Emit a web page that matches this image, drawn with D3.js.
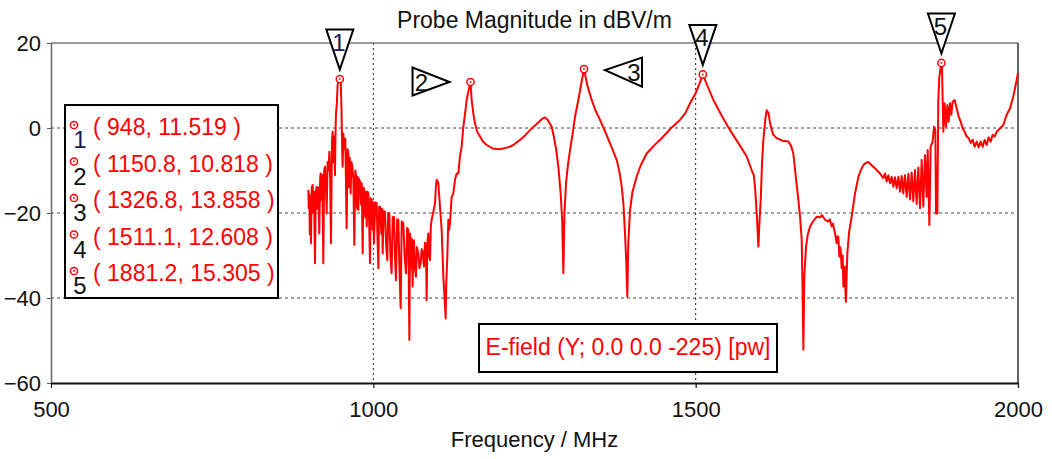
<!DOCTYPE html>
<html><head><meta charset="utf-8">
<script src="https://cdn.jsdelivr.net/npm/d3@7"></script>
<style>
html,body{margin:0;padding:0;background:#fff;}
svg{display:block;font-family:"Liberation Sans",Arial,sans-serif;}
</style></head><body>
<svg id="chart" width="1052" height="459"></svg>
<script>
// ---- data (frequency in MHz, probe magnitude in dBV/m) ----
const traceFreqDb = [
[899.2,-14.6],[899.8,-18.9],[900.6,-15.5],[901.5,-25],[902.2,-16],[903.3,-27.1],[904.5,-14],[905.9,-13.4],
[907,-20],[908,-15],[909.5,-31.8],[910.8,-15],[912.1,-13.8],[913.5,-19],[914.8,-14],[916.2,-24.8],
[917.5,-12],[918.3,-10.7],[919.5,-17],[920.8,-11],[922.4,-31.8],[923.8,-10],[925,-9.1],[926.5,-14],
[927.6,-20.1],[929,-8],[930.5,-10],[931.8,-5.6],[933,-12],[934.3,-27.1],[935.8,-3],[936.9,-0.9],
[938,-8],[939,-2],[940.5,-11.1],[941.5,0],[942.1,3.5],[943.5,6],[944.5,10],[946,11.3],[948,11.519],
[949.5,11],[950.5,5],[950.9,1.9],[951.8,-6],[952.4,-9.1],[953.5,-1.3],[955,-5],[956.5,-2.5],[958.6,-23.6],
[960,-5],[961.2,-6],[962.5,-14],[963.5,-7],[964.8,-15.4],[966,-8],[967.4,-9.1],[969,-12],[970.5,-27.5],
[972,-10],[973.1,-11.1],[974.8,-19],[976,-11.5],[976.7,-19.3],[978,-12],[979.3,-12.6],[981,-18],[982,-13],
[983.5,-29.5],[984.5,-14],[985.5,-14.2],[987.5,-21],[988.5,-15],[989.7,-23.2],[991,-15],[992.3,-15.4],
[993.5,-22],[994.8,-31.8],[996,-16.5],[997.4,-16.9],[999,-24],[1000,-17.5],[1001,-27.1],[1003,-17.5],
[1005.2,-17.7],[1006.5,-26],[1007.8,-33],[1009,-18.5],[1010.4,-18.5],[1012.5,-25],[1013.5,-19],[1014.5,-29.5],
[1016,-19.5],[1018.1,-19.7],[1020,-28],[1021.7,-31.1],[1023,-20],[1024.8,-20.1],[1026.5,-30],[1028.4,-34.2],
[1030,-21],[1032.1,-20.9],[1033.5,-30],[1035.2,-35.8],[1037,-21.5],[1038.8,-21.6],[1040.5,-33],[1042.4,-42.4],
[1044,-22],[1046.5,-22.4],[1048.5,-30],[1050.7,-34.2],[1052.5,-23.5],[1054.3,-24],[1055.9,-49.9],
[1056.9,-24.8],[1058.5,-33],[1059.5,-26],[1061,-37.3],[1062,-27],[1063.1,-26.4],[1064.5,-33],[1066.2,-35],
[1067.5,-28],[1069.8,-29.5],[1071.5,-33],[1073.4,-31.8],[1075,-28.5],[1076.5,-29.1],[1078.6,-32.6],[1080,-27],
[1081.7,-27.9],[1082.7,-40.5],[1083.8,-27],[1085.3,-24.8],[1086.5,-30],[1087.9,-31.1],[1089.2,-23],[1090.5,-21.6],
[1093.1,-19.7],[1095.7,-17.7],[1097,-14],[1098.2,-12.2],[1099.5,-12.5],[1100.8,-13],[1102,-15.5],[1103.4,-18.5],
[1106,-24],[1108.6,-35],[1110.5,-40],[1112.2,-44.8],[1113.2,-36],[1114.8,-30.3],[1116.3,-21.6],[1117.5,-24],
[1118.9,-22.4],[1121.5,-16.2],[1124.1,-15.4],[1126.7,-12.2],[1129.3,-10.7],[1131.9,-10.7],[1134.4,-6.7],[1137,-4.4],
[1139.6,0.3],[1142,3],[1144.8,6.6],[1148,9],[1150.8,10.818],[1152.5,6.6],[1155,3.5],[1157.7,1.1],[1161,-0.8],
[1165.5,-2],[1170,-3.2],[1175.8,-4],[1185,-4.8],[1196.5,-5],[1210,-4.5],[1217.2,-4],[1227.5,-2.8],[1235,-1.8],
[1243,-0.5],[1255,1.2],[1262,2.2],[1266.3,2.5],[1270,2],[1276.7,0.3],[1280,-2],[1284,-5.5],[1287,-9.1],
[1290.6,-15.4],[1293,-22],[1294.8,-34.2],[1296.5,-20],[1298.9,-13],[1302,-8.5],[1305.1,-5.2],[1309,-1.5],
[1312.9,2.7],[1318,6.6],[1322,10],[1326.8,13.858],[1332,10],[1338.7,6.6],[1345,4],[1351.6,1.9],[1360,-1],
[1367.2,-3.6],[1377.5,-7.5],[1382,-10.5],[1385.3,-13.8],[1388,-18],[1390.4,-24.8],[1392.5,-32],[1394,-39.7],
[1395.5,-27],[1398.2,-19.3],[1402,-15],[1408.5,-11.4],[1415,-8.7],[1424,-6],[1435,-4.2],[1449.9,-2],[1462,0],
[1475.7,1.9],[1484,3.5],[1491.2,5.8],[1500,8.2],[1506,10.5],[1511.1,12.608],[1518,10],[1527.5,6.6],[1540,3],
[1553.3,-0.5],[1566,-3.5],[1579.2,-6.7],[1586.9,-9.9],[1590,-11],[1592.1,-13.8],[1594.7,-20.1],[1597.3,-27.9],
[1599,-22],[1600.9,-16.9],[1603,-8],[1605,-2.8],[1608,2],[1610.2,4.2],[1613,3.5],[1615.4,1.1],[1620,-1.5],
[1625.7,-2.4],[1635,-3],[1643.8,-3.2],[1648,-4.2],[1651.5,-6],[1655,-11],[1659.3,-16.9],[1662,-21],[1664.5,-26.4],
[1665.8,-38],[1667.1,-52.2],[1668.5,-35],[1671.2,-27.9],[1674,-25],[1677.4,-23.2],[1682,-22],[1687.7,-20.9],
[1693,-21],[1696,-20.5],[1700.7,-21.6],[1705.8,-22],[1708,-21.5],[1711,-23.2],[1713,-22.5],[1716.2,-24.8],
[1718.7,-27.1],[1720,-25.5],[1721.3,-25.6],[1722.9,-30.3],[1724,-28],[1725,-28.7],[1726.5,-33],[1728,-30],
[1729.1,-37.3],[1730,-34],[1731.2,-32.6],[1732.2,-38],[1733.2,-40.9],[1734.2,-35],[1735.3,-29.5],[1738,-24.5],
[1742,-20.9],[1747.2,-15.4],[1752.4,-11.5],[1756,-10],[1760.1,-8.7],[1764,-8.2],[1767.9,-8],[1771,-8.5],
[1775.6,-9.1],[1780.8,-9.9],[1785.9,-10.7],[1791.1,-11.8],[1793.7,-10.7],[1796.3,-12.6],[1798.9,-11.1],
[1801.5,-13],[1804,-11.5],[1806.6,-13.8],[1809.2,-11.6],[1811.8,-14.2],[1814.4,-11.5],[1817,-15],[1819.5,-11.3],
[1822.1,-15.4],[1824.7,-11.1],[1827.3,-16.2],[1829.9,-10.8],[1832.5,-16.8],[1835,-10.5],[1837.6,-17.3],
[1840.2,-9.9],[1842.8,-17.9],[1845.4,-9.3],[1848,-18.9],[1850.6,-7.5],[1853.1,-18.5],[1855.7,-6.4],[1858.3,-16.2],
[1859.9,-5.2],[1862.5,-22.8],[1864.5,-4.4],[1867.6,-3.2],[1869.7,0.3],[1871.8,-0.5],[1872.8,-20.1],[1874.9,-20.1],
[1876.4,6.6],[1878,12.1],[1881.2,15.305],[1882.1,14],[1884.2,-0.9],[1886.2,5.8],[1888.3,0.3],[1890.4,5.4],
[1892.4,1.5],[1894.5,5.8],[1896.6,3.1],[1898.6,6.2],[1901.7,6.6],[1904.9,4.6],[1908,2.7],[1911.1,1.5],
[1914.2,-0.1],[1917.3,-0.9],[1920.4,-2],[1923.5,-2.4],[1926.6,-3.5],[1929.7,-2.8],[1932.8,-4.4],[1935.9,-3.2],
[1939,-4.6],[1942.1,-3.2],[1945.2,-4.4],[1948.3,-2.8],[1951.4,-4],[1954.5,-2.2],[1957.6,-3.2],[1960.7,-1.6],
[1963.8,-2],[1966.9,-0.9],[1972.1,-0.1],[1977.2,0.7],[1982.4,3.1],[1987.6,4.6],[1992.7,7.4],[1996.9,10.5],[2000,12.9]
];
const markerIds = ["1","2","3","4","5"];
const markerFreq = [948, 1150.8, 1326.8, 1511.1, 1881.2];
const markerVal = [11.519, 10.818, 13.858, 12.608, 15.305];
const markerDir = ["down","right","left","down","down"];
const xTicks = [500, 1000, 1500, 2000];
const yTicks = [20, 0, -20, -40, -60];
const gridX = [1000, 1500];
const gridY = [0, -20, -40];
const titleText = "Probe Magnitude in dBV/m";
const xLabelText = "Frequency / MHz";
const seriesLabel = "E-field (Y; 0.0 0.0 -225) [pw]";

// ---- layout ----
const L = 51, R = 1018, T = 43, B = 383;
const svg = d3.select("#chart");
const x = d3.scaleLinear().domain([500, 2000]).range([L, R]);
const y = d3.scaleLinear().domain([-60, 20]).range([B, T]);

// gridlines
svg.append("g").selectAll("line").data(gridY).join("line")
  .attr("x1", L).attr("x2", R).attr("y1", d => y(d)).attr("y2", d => y(d))
  .attr("stroke", "#444").attr("stroke-width", 1).attr("stroke-dasharray", "3,3");
svg.append("g").selectAll("line").data(gridX).join("line")
  .attr("y1", T).attr("y2", B).attr("x1", d => x(d)).attr("x2", d => x(d))
  .attr("stroke", "#222").attr("stroke-width", 1).attr("stroke-dasharray", "2,3");

// frame top/right
svg.append("line").attr("x1", L).attr("x2", R).attr("y1", T).attr("y2", T)
  .attr("stroke", "#777").attr("stroke-width", 1.5);
svg.append("line").attr("x1", R).attr("x2", R).attr("y1", T).attr("y2", B)
  .attr("stroke", "#333").attr("stroke-width", 1.5);

// axes
const yAxis = svg.append("g").attr("transform", `translate(${L},0)`)
  .call(d3.axisLeft(y).tickValues(yTicks).tickSize(4).tickPadding(6).tickSizeOuter(0).tickFormat(d3.format("d")));
yAxis.select(".domain").attr("stroke", "#666").attr("stroke-width", 1.5);
yAxis.selectAll(".tick line").attr("stroke", "#555");
yAxis.selectAll("text").attr("font-size", 22).attr("fill", "#111")
  .attr("font-family", "Liberation Sans, Arial, sans-serif");

const xAxis = svg.append("g").attr("transform", `translate(0,${B})`)
  .call(d3.axisBottom(x).tickValues(xTicks).tickSize(5).tickPadding(13).tickSizeOuter(0).tickFormat(d3.format("d")));
xAxis.select(".domain").attr("stroke", "#111").attr("stroke-width", 1.8);
xAxis.selectAll(".tick line").attr("stroke", "#111").attr("stroke-width", 1.2);
xAxis.selectAll("text").attr("font-size", 22).attr("fill", "#111")
  .attr("font-family", "Liberation Sans, Arial, sans-serif");

// trace
const line = d3.line().x(d => x(d[0])).y(d => y(d[1]));
svg.append("path").datum(traceFreqDb).attr("d", line)
  .attr("fill", "none").attr("stroke", "#ff0000").attr("stroke-width", 2)
  .attr("stroke-linejoin", "round");

// marker circles
function markerDot(g, cx, cy) {
  g.append("circle").attr("cx", cx).attr("cy", cy).attr("r", 3.6)
    .attr("fill", "#fff").attr("stroke", "#ff0000").attr("stroke-width", 1.5);
  g.append("circle").attr("cx", cx).attr("cy", cy).attr("r", 0.9).attr("fill", "#ff0000");
}
const mg = svg.append("g");
markerIds.forEach((id, i) => {
  const cx = x(markerFreq[i]), cy = y(markerVal[i]);
  markerDot(mg, cx, cy);
  let pts, lx, ly;
  if (markerDir[i] === "down") {
    const tip = cy - 9.5;
    pts = [[cx - 13.5, tip - 40], [cx + 13.5, tip - 40], [cx, tip]];
    lx = cx - 1; ly = tip - 27;
  } else if (markerDir[i] === "right") {
    const tx = cx - 21, ty = cy;
    pts = [[tx - 37, ty - 14.5], [tx - 37, ty + 13.5], [tx, ty]];
    lx = tx - 28; ly = ty;
  } else {
    const tx = cx + 21, ty = cy + 1;
    pts = [[tx + 37, ty - 12.5], [tx + 37, ty + 16.5], [tx, ty]];
    lx = tx + 29; ly = ty + 2;
  }
  mg.append("path").attr("d", "M" + pts.map(p => p.join(",")).join("L") + "Z")
    .attr("fill", "#fff").attr("stroke", "#000").attr("stroke-width", 2)
    .attr("stroke-linejoin", "miter");
  mg.append("text").attr("x", lx).attr("y", ly).attr("text-anchor", "middle")
    .attr("dominant-baseline", "central").attr("font-size", 24)
    .attr("fill", i === 0 ? "#1a1a55" : "#111").text(id);
});

// marker legend box
const lg = svg.append("g");
lg.append("rect").attr("x", 65).attr("y", 105).attr("width", 213).attr("height", 193)
  .attr("fill", "#fff").attr("stroke", "#000").attr("stroke-width", 2);
markerIds.forEach((id, i) => {
  const base = 135 + i * 36.5;
  markerDot(lg, 74, base - 10);
  lg.append("text").attr("x", 80).attr("y", base + 13).attr("text-anchor", "middle")
    .attr("font-size", 24).attr("fill", i === 0 ? "#1a1a55" : "#111").text(id);
  lg.append("text").attr("x", 93).attr("y", base).attr("font-size", 23)
    .attr("fill", "#ff0000").text(`( ${markerFreq[i]}, ${markerVal[i]} )`);
});

// series label box
const sg = svg.append("g");
sg.append("rect").attr("x", 479).attr("y", 324).attr("width", 298).attr("height", 48)
  .attr("fill", "#fff").attr("stroke", "#000").attr("stroke-width", 2);
sg.append("text").attr("x", 628).attr("y", 355).attr("text-anchor", "middle")
  .attr("font-size", 23).attr("fill", "#ff0000").text(seriesLabel);

// title and axis label
svg.append("text").attr("x", (L + R) / 2).attr("y", 28).attr("text-anchor", "middle")
  .attr("font-size", 23).attr("fill", "#111").text(titleText);
svg.append("text").attr("x", (L + R) / 2).attr("y", 447).attr("text-anchor", "middle")
  .attr("font-size", 22).attr("fill", "#111").text(xLabelText);
</script>
</body></html>
